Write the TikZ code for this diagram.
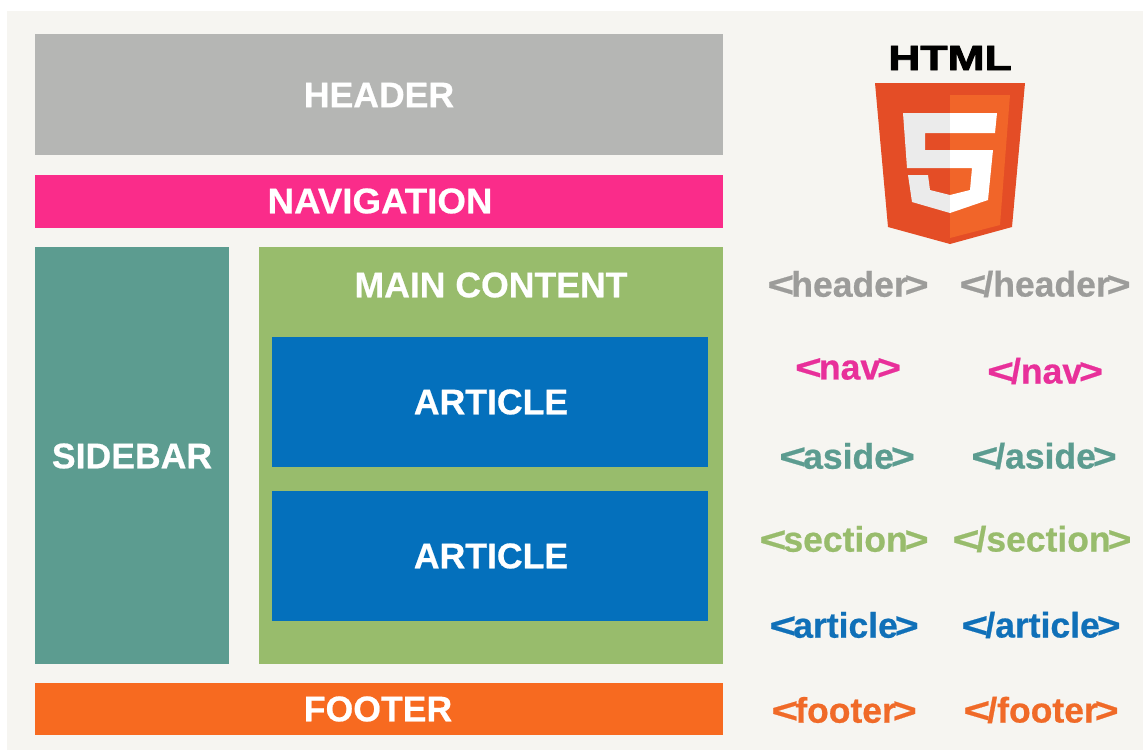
\documentclass[tikz,border=0pt]{standalone}
\usepackage{fontspec}
\usepackage{graphicx}
\setmainfont{Liberation Sans}
\newfontfamily\labfont[FakeBold=0.6]{Liberation Sans Bold}
\newfontfamily\heavyfont[FakeBold=2.2]{Liberation Sans Bold}
\definecolor{bgc}{HTML}{F6F5F1}
\definecolor{hdc}{HTML}{B5B6B4}
\definecolor{navc}{HTML}{FA2C8A}
\definecolor{sidec}{HTML}{5C9C90}
\definecolor{mainc}{HTML}{98BC6C}
\definecolor{artc}{HTML}{0470BC}
\definecolor{footc}{HTML}{F76A20}
\definecolor{hdt}{HTML}{9C9C9A}
\definecolor{navt}{HTML}{E8309A}
\definecolor{sidet}{HTML}{5C9C90}
\definecolor{maint}{HTML}{98BC6C}
\definecolor{artt}{HTML}{1070B8}
\definecolor{foott}{HTML}{F06A28}
\definecolor{shA}{HTML}{E44D26}
\definecolor{shB}{HTML}{F16529}
\definecolor{shW}{HTML}{EBEBEB}
\newcommand{\LTb}{\scalebox{1.3}[1]{<}\kern-3pt}
\newcommand{\GTb}{\kern-3pt\scalebox{1.15}[1]{>}}
\tikzset{
  x=1pt,y=-1pt,
  lab/.style={inner sep=0pt,text=white,font=\fontsize{35.6}{36}\labfont},
  tagt/.style={inner sep=0pt,font=\fontsize{35.5}{36}\labfont},
}
\begin{document}
\begin{tikzpicture}
\useasboundingbox (0,0) rectangle (1143,750);
\fill[white] (0,0) rectangle (1143,750);
\fill[bgc] (7,11) rectangle (1143,750);
\fill[hdc] (35,34) rectangle (723,155);
\fill[navc] (35,175) rectangle (723,228);
\fill[sidec] (35,247) rectangle (229,664);
\fill[mainc] (259,247) rectangle (723,664);
\fill[artc] (272,337) rectangle (708,467);
\fill[artc] (272,491) rectangle (708,621);
\fill[footc] (35,683) rectangle (723,735);
\node[lab] (header) at (379,95) {HEADER};
\node[lab] (nav) at (380,201) {\scalebox{1.03}[1]{NAVIGATION}};
\node[lab] (side) at (132,456) {SIDEBAR};
\node[lab] (main) at (491,285) {MAIN CONTENT};
\node[lab] (art1) at (491,402) {ARTICLE};
\node[lab] (art2) at (491,556) {ARTICLE};
\node[lab] (foot) at (378,709) {FOOTER};
\node[inner sep=0pt,font=\fontsize{35}{35}\heavyfont] (html) at (950,58) {\scalebox{1.27}[1]{HTML}};
% shield
\fill[shA] (875,83) -- (1025,83) -- (1012,227) -- (950,244) -- (888,227) -- cycle;
\fill[shB] (950,95) -- (1010,95) -- (1000,225) -- (950,238) -- cycle;
\fill[shW] (903,113) -- (950,113) -- (950,133) -- (925,133) -- (925,150) -- (950,150) -- (950,168) -- (907,168) -- cycle;
\fill[shW] (908,175) -- (928,175) -- (930,190) -- (950,195) -- (950,213) -- (912,202) -- cycle;
\fill[white] (950,113) -- (997,113) -- (995,133) -- (950,133) -- cycle;
\fill[white] (950,150) -- (993,150) -- (988,200) -- (950,213) -- (950,195) -- (970,190) -- (972,168) -- (950,168) -- cycle;
% tags
\node[tagt,text=hdt] (t1) at (848,284) {\LTb header\GTb};
\node[tagt,text=hdt] (t2) at (1045,284) {\LTb/header\GTb};
\node[tagt,text=navt] (t3) at (848,369) {\LTb nav\GTb};
\node[tagt,text=navt] (t4) at (1045,371) {\LTb/nav\GTb};
\node[tagt,text=sidet] (t5) at (847,456) {\LTb aside\GTb};
\node[tagt,text=sidet] (t6) at (1044,456) {\LTb/aside\GTb};
\node[tagt,text=maint] (t7) at (844,539) {\LTb section\GTb};
\node[tagt,text=maint] (t8) at (1042,539) {\LTb/section\GTb};
\node[tagt,text=artt] (t9) at (844,625) {\LTb article\GTb};
\node[tagt,text=artt] (t10) at (1041,625) {\LTb/article\GTb};
\node[tagt,text=foott] (t11) at (844,710) {\LTb footer\GTb};
\node[tagt,text=foott] (t12) at (1041,710) {\LTb/footer\GTb};
\end{tikzpicture}
\end{document}
